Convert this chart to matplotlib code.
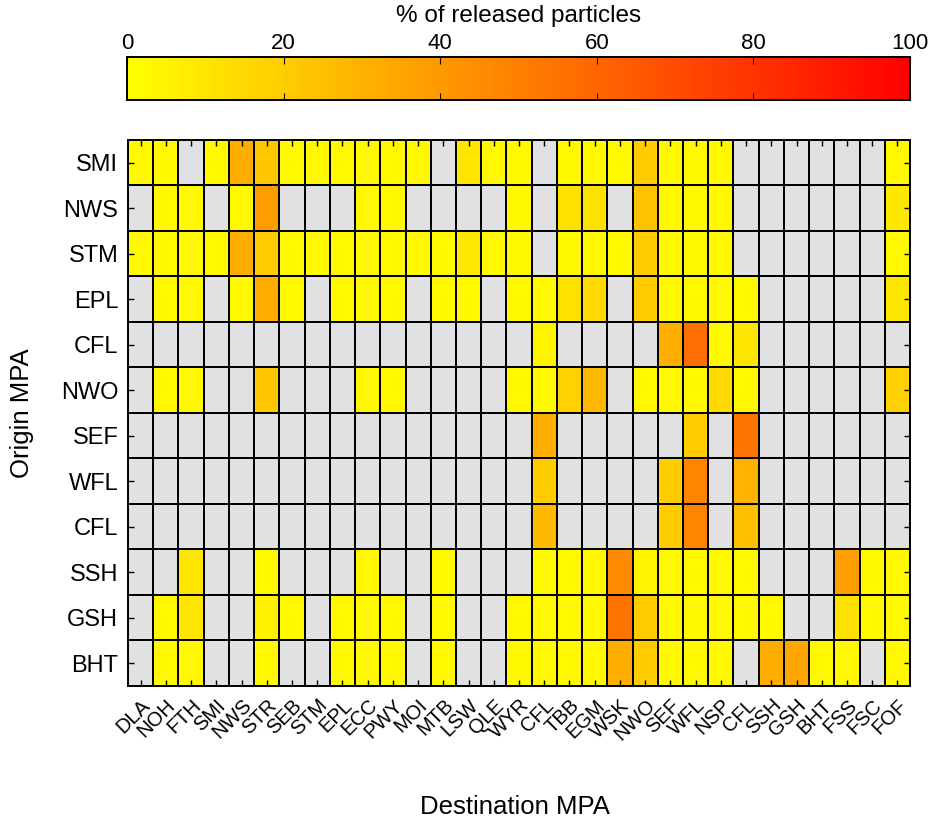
import numpy as np
import matplotlib
matplotlib.use("Agg")
import matplotlib.pyplot as plt

plt.rcParams['font.family'] = ['Liberation Sans', 'DejaVu Sans']

# Datos
origin = ['SMI', 'NWS', 'STM', 'EPL', 'CFL', 'NWO', 'SEF', 'WFL', 'CFL', 'SSH', 'GSH', 'BHT']
destination = ['DLA', 'NOH', 'FTH', 'SMI', 'NWS', 'STR', 'SEB', 'STM', 'EPL', 'ECC', 'PWY',
               'MOI', 'MTB', 'LSW', 'QLE', 'WYR', 'CFL', 'TBB', 'EGM', 'WSK', 'NWO', 'SEF',
               'WFL', 'NSP', 'CFL', 'SSH', 'GSH', 'BHT', 'FSS', 'FSC', 'FOF']

# % de particulas liberadas (0 = sin conexion, gris)
smi = [3, 3, 0, 3, 32, 22, 3, 3, 3, 3, 3, 3, 0, 10, 3, 3,
       0, 3, 3, 3, 20, 3, 3, 3, 0, 0, 0, 0, 0, 0, 3]
nws = [0, 3, 3, 0, 3, 38, 0, 0, 0, 3, 3, 0, 0, 0, 0, 3,
       0, 12, 12, 0, 24, 3, 3, 3, 0, 0, 0, 0, 0, 0, 9]
stm = [3, 3, 3, 3, 32, 20, 3, 3, 3, 3, 3, 3, 3, 9, 3, 3,
       0, 3, 3, 3, 20, 3, 3, 3, 0, 0, 0, 0, 0, 0, 3]
epl = [0, 3, 3, 0, 3, 32, 3, 0, 3, 3, 3, 0, 3, 3, 0, 3,
       3, 12, 15, 0, 20, 3, 3, 3, 3, 0, 0, 0, 0, 0, 10]
cfl1 = [0, 0, 0, 0, 0, 0, 0, 0, 0, 0, 0, 0, 0, 0, 0, 0,
        5, 0, 0, 0, 0, 32, 57, 3, 10, 0, 0, 0, 0, 0, 0]
nwo = [0, 3, 3, 0, 0, 22, 0, 0, 0, 3, 3, 0, 0, 0, 0, 3,
       3, 18, 28, 0, 3, 3, 3, 15, 3, 0, 0, 0, 0, 0, 18]
sef = [0, 0, 0, 0, 0, 0, 0, 0, 0, 0, 0, 0, 0, 0, 0, 0,
       32, 0, 0, 0, 0, 0, 20, 0, 55, 0, 0, 0, 0, 0, 0]
wfl = [0, 0, 0, 0, 0, 0, 0, 0, 0, 0, 0, 0, 0, 0, 0, 0,
       20, 0, 0, 0, 0, 20, 48, 0, 30, 0, 0, 0, 0, 0, 0]
cfl2 = [0, 0, 0, 0, 0, 0, 0, 0, 0, 0, 0, 0, 0, 0, 0, 0,
        28, 0, 0, 0, 0, 20, 48, 0, 25, 0, 0, 0, 0, 0, 0]
ssh = [0, 0, 10, 0, 0, 3, 0, 0, 0, 3, 0, 0, 3, 0, 0, 0,
       3, 3, 3, 45, 4, 3, 3, 3, 3, 0, 0, 0, 38, 3, 3]
gsh = [0, 3, 10, 0, 0, 6, 3, 0, 3, 3, 3, 0, 3, 0, 0, 3,
       3, 3, 3, 55, 20, 3, 3, 3, 3, 3, 0, 0, 12, 3, 3]
bht = [0, 3, 3, 0, 0, 3, 0, 0, 3, 3, 3, 0, 3, 0, 0, 3,
       3, 3, 3, 32, 20, 3, 3, 3, 0, 32, 35, 3, 3, 0, 3]

M = np.array([smi, nws, stm, epl, cfl1, nwo, sef, wfl, cfl2, ssh, gsh, bht], dtype=float)
M = np.ma.masked_where(M == 0, M)

cmap = plt.get_cmap('autumn_r').copy()
cmap.set_bad('#e1e1e3')

fig = plt.figure(figsize=(9.33, 8.18), dpi=100)
ax = fig.add_axes([0.1372, 0.1614, 0.8382, 0.6675])
cax = fig.add_axes([0.1361, 0.8778, 0.8393, 0.0526])

mesh = ax.pcolormesh(M, cmap=cmap, vmin=0, vmax=100, edgecolors='k', linewidth=1.4)
ax.set_xlim(0, len(destination))
ax.set_ylim(len(origin), 0)

ax.set_xticks(np.arange(len(destination)) + 0.5)
ax.set_xticklabels(destination, rotation=45, ha='right', rotation_mode='anchor', fontsize=14.5)
ax.set_yticks(np.arange(len(origin)) + 0.5)
ax.set_yticklabels(origin, fontsize=17)
ax.tick_params(direction='in', length=4, top=True, right=True, width=1)
ax.tick_params(axis='x', pad=7)
ax.tick_params(axis='y', pad=7)
ax.set_xlabel('Destination MPA', fontsize=18.5)
ax.set_ylabel('Origin MPA', fontsize=18.5)
ax.xaxis.set_label_coords(0.495, -0.2)
ax.yaxis.set_label_coords(-0.12, 0.5)
for s in ax.spines.values():
    s.set_linewidth(1.4)

# Barra de color arriba
cb = fig.colorbar(mesh, cax=cax, orientation='horizontal')
cb.set_ticks([0, 20, 40, 60, 80, 100])
cax.xaxis.set_ticks_position('top')
cax.xaxis.set_label_position('top')
cax.tick_params(direction='in', length=5, top=True, bottom=True, labelsize=16, pad=2)
cb.set_label('% of released particles', fontsize=17.5)
cax.xaxis.set_label_coords(0.5, 1.82)
cb.outline.set_linewidth(1.4)

plt.savefig('out.png')
